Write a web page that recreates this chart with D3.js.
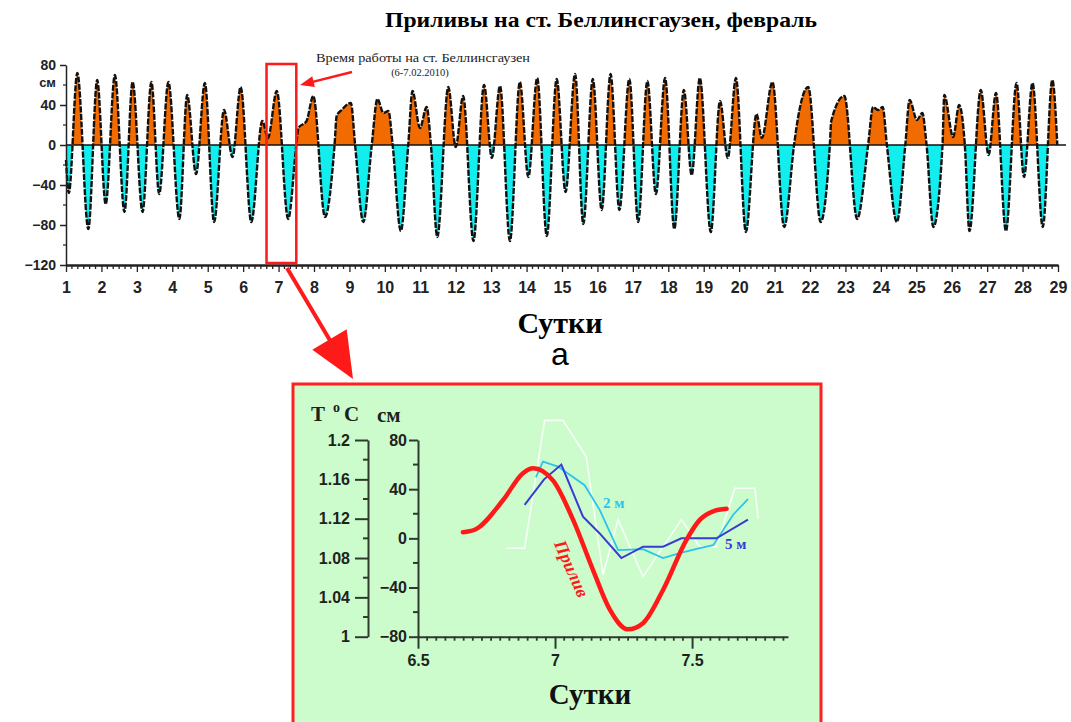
<!DOCTYPE html>
<html><head><meta charset="utf-8">
<script src="https://cdn.jsdelivr.net/npm/d3@7"></script>
<style>body{margin:0;background:#fff}svg{display:block}</style>
</head><body>
<svg id="c" width="1071" height="722"></svg>
<script>
// ---------- DATA: main tide chart (extrema) ----------
const tideDays = [1.00,1.08,1.32,1.63,1.88,2.12,2.38,2.65,2.88,3.16,3.41,3.63,3.89,4.20,4.42,4.67,4.92,5.18,5.46,5.70,5.93,6.23,6.54,6.70,6.95,7.27,7.50,7.56,7.79,7.98,8.31,8.58,8.64,8.78,9.04,9.16,9.39,9.63,9.79,9.96,10.10,10.22,10.45,10.66,10.78,10.99,11.18,11.30,11.48,11.79,12.00,12.21,12.50,12.80,13.02,13.25,13.53,13.81,14.05,14.30,14.57,14.85,15.10,15.37,15.60,15.87,16.12,16.37,16.62,16.90,17.15,17.41,17.65,17.91,18.17,18.44,18.66,18.89,19.20,19.46,19.68,19.91,20.19,20.49,20.64,20.94,21.27,21.55,21.62,21.95,22.30,22.56,22.60,22.97,23.33,23.64,23.78,23.92,24.05,24.17,24.45,24.69,24.81,25.02,25.17,25.29,25.48,25.74,25.79,26.04,26.21,26.37,26.50,26.82,27.04,27.25,27.53,27.83,28.04,28.28,28.57,28.84,28.98];
const tideCm   = [-15,-48,72,-84,65,-59,70,-67,63,-67,63,-49,63,-74,50,-29,62,-77,35,-12,58,-77,24,7,54,-74,0,17,24,49,-72,0,29,35,42,0,-77,0,46,32,34,0,-86,0,54,17,38,0,-92,58,-2,49,-96,60,-13,59,-96,63,-32,67,-91,66,-47,71,-79,66,-65,71,-65,66,-77,64,-49,67,-84,55,-30,67,-87,44,-13,67,-87,31,7,63,-82,0,18,58,-77,0,24,49,-74,0,38,35,38,0,-77,0,45,25,32,0,-82,0,50,8,40,0,-86,55,-10,52,-86,62,-32,62,-82,65,0];
const mainDayTicks = d3.range(1, 30);
const mainCmTicks = [80, 40, 0, -40, -80, -120];
const mainCmMinor = [60, 20, -20, -60, -100];

// ---------- DATA: inset (day 7) ----------
const insTideDays = [6.664,6.707,6.81,6.883,6.92,6.993,7.066,7.139,7.20,7.266,7.321,7.394,7.48,7.528,7.577,7.626];
const insTideCm   = [5,7,31,53,57,47,15,-26,-58,-74,-69,-42,-1,15,22,24];
const t2mDays = [6.930,6.956,7.011,7.108,7.163,7.230,7.321,7.394,7.455,7.528,7.577,7.650,7.704];
const t2mTemp = [1.162,1.178,1.173,1.154,1.129,1.088,1.089,1.080,1.085,1.090,1.093,1.124,1.140];
const t5mDays = [6.889,6.96,7.023,7.102,7.163,7.242,7.321,7.394,7.461,7.528,7.589,7.704];
const t5mTemp = [1.134,1.160,1.175,1.122,1.105,1.080,1.0915,1.0915,1.100,1.100,1.100,1.119];
const tWDays = [6.823,6.889,6.962,7.029,7.114,7.175,7.230,7.321,7.461,7.528,7.589,7.656,7.729,7.741];
const tWTemp = [1.090,1.090,1.220,1.220,1.183,1.063,1.119,1.061,1.119,1.0915,1.0915,1.151,1.151,1.120];
const insTempTicks = [1, 1.04, 1.08, 1.12, 1.16, 1.2];
const insTempLabels = ["1", "1.04", "1.08", "1.12", "1.16", "1.2"];
const insCmTicks = [80, 40, 0, -40, -80];
const insDayTicks = [6.5, 7, 7.5];

// ---------- DRAW ----------
const svg = d3.select("#c");
const serif = "'Liberation Serif','Times New Roman',serif";
const sans = "'Liberation Sans',Arial,sans-serif";
const axisCol = "#222";

// Title
svg.append("text").attr("x", 385).attr("y", 27)
  .attr("font-family", serif).attr("font-weight", "bold").attr("font-size", 21)
  .attr("textLength", 432).attr("lengthAdjust", "spacingAndGlyphs")
  .text("Приливы на ст. Беллинсгаузен,  февраль");

// Main chart scales
const x = d3.scaleLinear().domain([1, 29]).range([66, 1058]);
const y = d3.scaleLinear().domain([-120, 80]).range([265, 65]);
const tide = tideDays.map((d, i) => ({d, v: tideCm[i]}));

const defs = svg.append("defs");
defs.append("clipPath").attr("id", "above").append("rect")
  .attr("x", 0).attr("y", 0).attr("width", 1071).attr("height", y(0));
defs.append("clipPath").attr("id", "below").append("rect")
  .attr("x", 0).attr("y", y(0)).attr("width", 1071).attr("height", 400);

const area = d3.area().x(d => x(d.d)).y0(y(0)).y1(d => y(d.v)).curve(d3.curveMonotoneX);
const line = d3.line().x(d => x(d.d)).y(d => y(d.v)).curve(d3.curveMonotoneX);
svg.append("path").datum(tide).attr("d", area).attr("fill", "#f26b00").attr("clip-path", "url(#above)");
svg.append("path").datum(tide).attr("d", area).attr("fill", "#12eded").attr("clip-path", "url(#below)");
svg.append("path").datum(tide).attr("d", line).attr("fill", "none").attr("stroke", "#111")
  .attr("stroke-width", 2.4).attr("stroke-dasharray", "6,1.5").attr("stroke-linejoin", "round");
// zero line
svg.append("line").attr("x1", x(1)).attr("x2", 1066).attr("y1", y(0)).attr("y2", y(0))
  .attr("stroke", "#111").attr("stroke-width", 1.5);

// Y axis
const yAx = svg.append("g").attr("transform", `translate(${x(1)},0)`)
  .call(d3.axisLeft(y).tickValues(mainCmTicks).tickSize(6).tickSizeOuter(0).tickPadding(4));
yAx.selectAll("text").attr("font-family", sans).attr("font-weight", "bold").attr("font-size", 14).attr("fill", axisCol);
yAx.selectAll("line,path").attr("stroke", axisCol).attr("stroke-width", 1.5);
svg.append("g").selectAll("line").data(mainCmMinor).join("line")
  .attr("x1", x(1) - 3).attr("x2", x(1)).attr("y1", d => y(d)).attr("y2", d => y(d))
  .attr("stroke", axisCol).attr("stroke-width", 1.2);
svg.append("text").attr("x", 56).attr("y", 87).attr("text-anchor", "end")
  .attr("font-family", sans).attr("font-weight", "bold").attr("font-size", 13).attr("fill", axisCol).text("см");

// X axis
const xAx = svg.append("g").attr("transform", `translate(0,${y(-120)})`)
  .call(d3.axisBottom(x).tickValues(mainDayTicks).tickSize(7).tickSizeOuter(0).tickPadding(10).tickFormat(d3.format("d")));
xAx.selectAll("text").attr("font-family", sans).attr("font-weight", "bold").attr("font-size", 16).attr("fill", axisCol);
xAx.selectAll("line").attr("stroke", axisCol).attr("stroke-width", 1.3);
xAx.select(".domain").attr("stroke", axisCol).attr("stroke-width", 2.5);
const mainMinor = d3.range(1, 29, 1 / 6).filter(d => Math.abs(d - Math.round(d)) > 0.01);
svg.append("g").selectAll("line").data(mainMinor).join("line")
  .attr("x1", d => x(d)).attr("x2", d => x(d)).attr("y1", y(-120)).attr("y2", y(-120) + 4)
  .attr("stroke", axisCol).attr("stroke-width", 1.3);

svg.append("text").attr("x", 560).attr("y", 333).attr("text-anchor", "middle")
  .attr("font-family", serif).attr("font-weight", "bold").attr("font-size", 30).text("Сутки");
svg.append("text").attr("x", 560).attr("y", 365).attr("text-anchor", "middle")
  .attr("font-family", sans).attr("font-size", 32).text("а");

// Highlight rectangle + annotation
svg.append("rect").attr("x", x(6.66)).attr("y", 64).attr("width", x(7.5) - x(6.66)).attr("height", 199)
  .attr("fill", "none").attr("stroke", "#ff1a1a").attr("stroke-width", 2.5);
svg.append("text").attr("x", 316).attr("y", 62)
  .attr("font-family", serif).attr("font-size", 12).attr("fill", "#222")
  .attr("textLength", 214).attr("lengthAdjust", "spacingAndGlyphs").text("Время работы на ст. Беллинсгаузен");
svg.append("text").attr("x", 420).attr("y", 76).attr("text-anchor", "middle")
  .attr("font-family", serif).attr("font-size", 10.5).attr("fill", "#222").text("(6-7.02.2010)");

function arrow(x1, y1, x2, y2, headLen, headW, sw) {
  const dx = x2 - x1, dy = y2 - y1, L = Math.hypot(dx, dy), ux = dx / L, uy = dy / L;
  const bx = x2 - ux * headLen, by = y2 - uy * headLen;
  svg.append("line").attr("x1", x1).attr("y1", y1).attr("x2", bx + ux * 2).attr("y2", by + uy * 2)
    .attr("stroke", "#ff1a1a").attr("stroke-width", sw);
  svg.append("path").attr("d", `M${x2},${y2}L${bx - uy * headW / 2},${by + ux * headW / 2}L${bx + uy * headW / 2},${by - ux * headW / 2}Z`)
    .attr("fill", "#ff1a1a");
}
arrow(352, 72, 300, 85, 14, 11, 2.5);
arrow(287, 268, 353, 379, 46, 40, 4);

// ---------- INSET ----------
svg.append("rect").attr("x", 293).attr("y", 384).attr("width", 528).attr("height", 345)
  .attr("fill", "#ccfccc").attr("stroke", "#ff2020").attr("stroke-width", 3);

const ix = d3.scaleLinear().domain([6.5, 7.85]).range([418, 788]);
const iyCm = d3.scaleLinear().domain([-80, 80]).range([636.7, 440]);
const iyT = d3.scaleLinear().domain([1, 1.2]).range([636.7, 440]);
const inAxisCol = "#2f3a2f";

const tAx = svg.append("g").attr("transform", "translate(368,0)")
  .call(d3.axisLeft(iyT).tickValues(insTempTicks).tickFormat((d, i) => insTempLabels[i]).tickSize(13).tickSizeOuter(0).tickPadding(5));
const cAx = svg.append("g").attr("transform", "translate(418,0)")
  .call(d3.axisLeft(iyCm).tickValues(insCmTicks).tickSize(9).tickSizeOuter(0).tickPadding(2));
[tAx, cAx].forEach(g => {
  g.selectAll("text").attr("font-family", sans).attr("font-weight", "bold").attr("font-size", 16).attr("fill", "#1c231c");
  g.selectAll("line,path").attr("stroke", inAxisCol).attr("stroke-width", 2);
});
svg.append("g").selectAll("line").data(d3.range(1.02, 1.2, 0.04)).join("line")
  .attr("x1", 363).attr("x2", 368).attr("y1", d => iyT(d)).attr("y2", d => iyT(d))
  .attr("stroke", inAxisCol).attr("stroke-width", 2);
svg.append("g").selectAll("line").data([60, 20, -20, -60]).join("line")
  .attr("x1", 413).attr("x2", 418).attr("y1", d => iyCm(d)).attr("y2", d => iyCm(d))
  .attr("stroke", inAxisCol).attr("stroke-width", 2);

const ixAx = svg.append("g").attr("transform", "translate(0,636.7)")
  .call(d3.axisBottom(ix).tickValues(insDayTicks).tickFormat(d3.format("~g")).tickSize(12).tickSizeOuter(0).tickPadding(6));
ixAx.selectAll("text").attr("font-family", sans).attr("font-weight", "bold").attr("font-size", 16).attr("fill", "#1c231c");
ixAx.selectAll("line,path").attr("stroke", inAxisCol).attr("stroke-width", 2);
svg.append("g").selectAll("line").data(d3.range(6.5, 7.86, 1 / 30).filter(d => Math.abs(d * 2 - Math.round(d * 2)) > 0.01)).join("line")
  .attr("x1", d => ix(d)).attr("x2", d => ix(d)).attr("y1", 636.7).attr("y2", 640.7)
  .attr("stroke", inAxisCol).attr("stroke-width", 1.8);

// axis titles
const tt = svg.append("text").attr("font-family", serif).attr("font-weight", "bold").attr("font-size", 21).attr("fill", "#1c231c");
tt.append("tspan").attr("x", 311).attr("y", 421).text("T ");
tt.append("tspan").attr("x", 333).attr("y", 412).attr("font-size", 14).text("o");
tt.append("tspan").attr("x", 344).attr("y", 421).text("C");
svg.append("text").attr("x", 377).attr("y", 422).attr("font-family", serif).attr("font-weight", "bold")
  .attr("font-size", 21).attr("fill", "#1c231c").text("см");

// inset lines
const lineT = d3.line().x(d => ix(d[0])).y(d => iyT(d[1]));
svg.append("path").datum(tWDays.map((d, i) => [d, tWTemp[i]])).attr("d", lineT)
  .attr("fill", "none").attr("stroke", "#ffffff").attr("stroke-width", 1.6).attr("opacity", 0.85);
svg.append("path").datum(t2mDays.map((d, i) => [d, t2mTemp[i]])).attr("d", lineT)
  .attr("fill", "none").attr("stroke", "#2cc3ec").attr("stroke-width", 1.8);
svg.append("path").datum(t5mDays.map((d, i) => [d, t5mTemp[i]])).attr("d", lineT)
  .attr("fill", "none").attr("stroke", "#3a3ad6").attr("stroke-width", 2);
svg.append("path").datum(insTideDays.map((d, i) => [d, insTideCm[i]]))
  .attr("d", d3.line().x(d => ix(d[0])).y(d => iyCm(d[1])).curve(d3.curveMonotoneX))
  .attr("fill", "none").attr("stroke", "#ff1a1a").attr("stroke-width", 4.5).attr("stroke-linecap", "round");

svg.append("text").attr("x", 603).attr("y", 508).attr("font-family", serif).attr("font-weight", "bold")
  .attr("font-size", 15).attr("fill", "#2cc3ec").text("2 м");
svg.append("text").attr("x", 725).attr("y", 549).attr("font-family", serif).attr("font-weight", "bold")
  .attr("font-size", 15).attr("fill", "#3a3ad6").text("5 м");
svg.append("text").attr("transform", "translate(566,571) rotate(66)").attr("text-anchor", "middle")
  .attr("font-family", serif).attr("font-weight", "bold").attr("font-style", "italic")
  .attr("font-size", 18).attr("fill", "#ff1a1a").text("Прилив");

svg.append("text").attr("x", 590).attr("y", 704).attr("text-anchor", "middle")
  .attr("font-family", serif).attr("font-weight", "bold").attr("font-size", 29).attr("fill", "#111").text("Сутки");
</script>
</body></html>
